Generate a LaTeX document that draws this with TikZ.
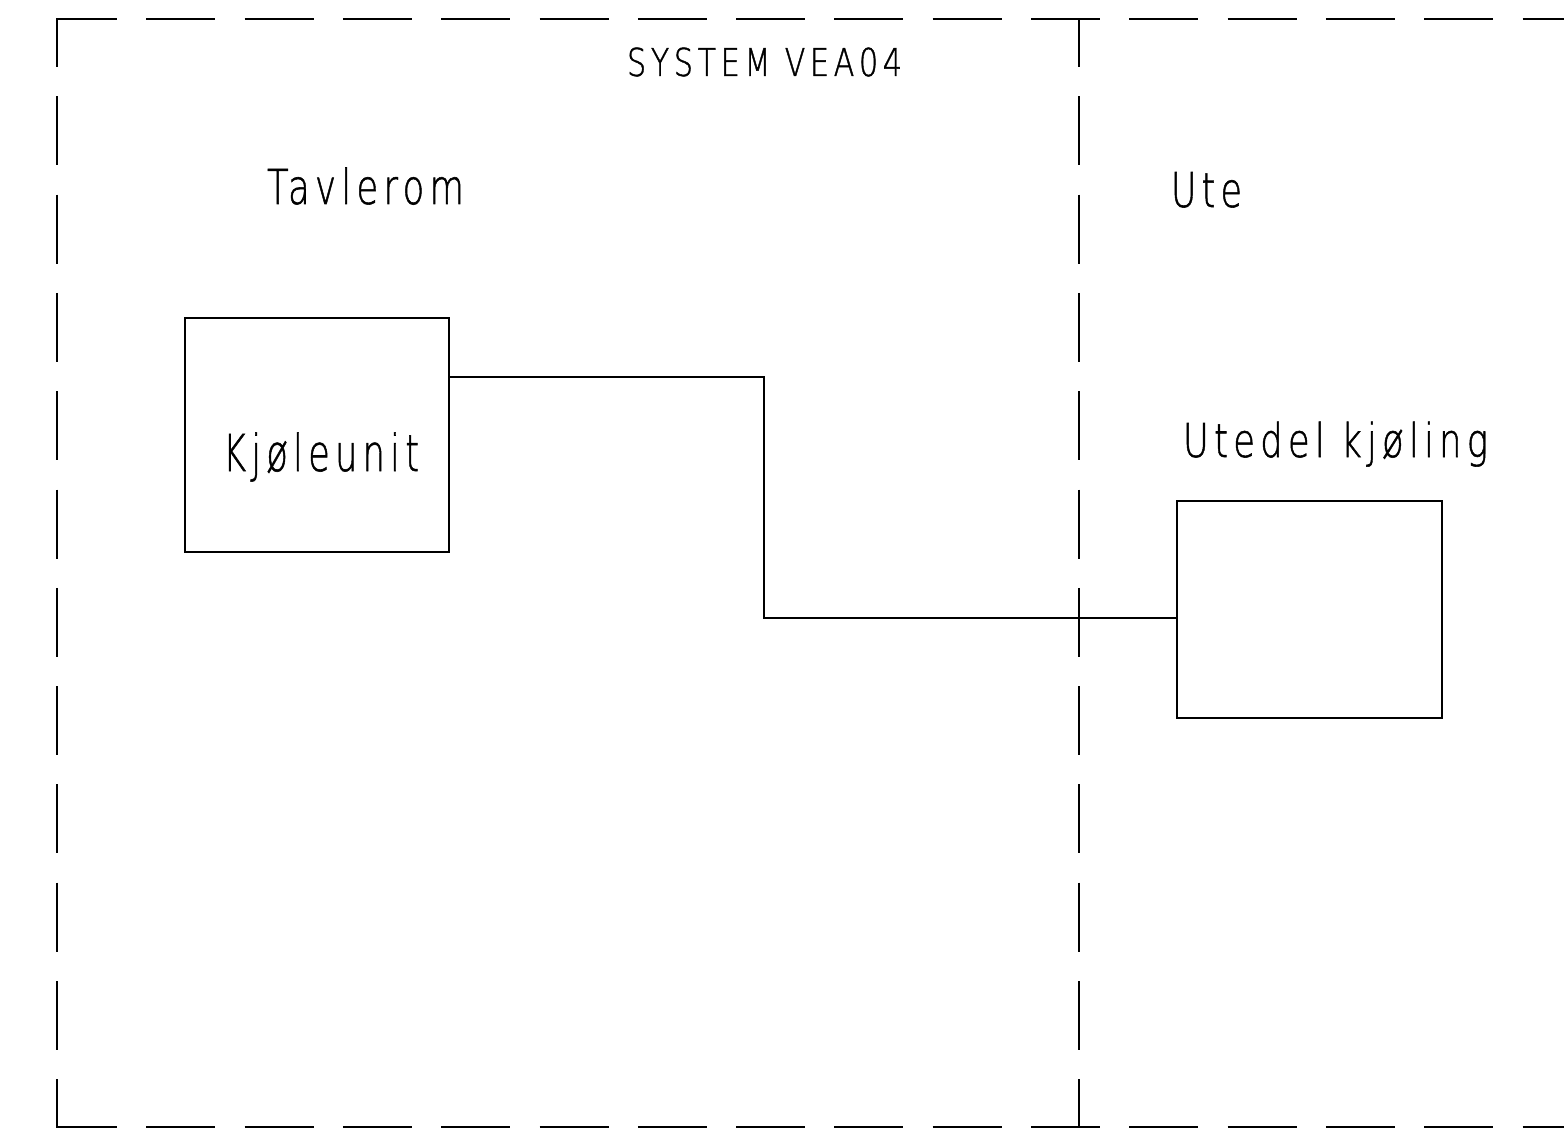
\documentclass[tikz,border=0pt]{standalone}
\usepackage{fontspec}
\usepackage{graphicx}
\newfontfamily\isofont[LetterSpace=15,FakeBold=1.2]{DejaVu Sans ExtraLight}
\newlength\upx
\setlength\upx{0.5pt}
\newcommand\isotext[3]{\resizebox{#1\upx}{\height}{\fontsize{#2}{#2}\selectfont\isofont #3}}
\tikzset{
  framehdash/.style={line width=1pt, dash pattern=on 34.5pt off 14.65pt, dash phase=4pt},
  framevdash/.style={line width=1pt, dash pattern=on 34.5pt off 14.65pt, dash phase=10.5pt},
  unitbox/.style={draw, line width=1pt, inner sep=0pt, outer sep=0pt, anchor=north west},
  conn/.style={line width=1.2pt},
  lbl/.style={inner sep=0pt, outer sep=0pt, anchor=base west}
}
\begin{document}
\begin{tikzpicture}[x=0.5pt, y=-0.5pt]
\useasboundingbox[fill=white] (0,0) rectangle (1564,1129);
% frame
\draw[framehdash] (56,19) -- (1564,19);
\draw[framehdash] (56,1127) -- (1564,1127);
\draw[framevdash] (57,19) -- (57,1127);
\draw[framevdash] (1079,19) -- (1079,1127);
% titles
\node[lbl] (sys) at (627,76) {\isotext{275}{19.2pt}{SYSTEM VEA04}};
\node[lbl] (tav) at (267,204) {\isotext{197}{24pt}{Tavlerom}};
\node[lbl] (ute) at (1171,207) {\isotext{71}{24pt}{Ute}};
% boxes
\node[unitbox, minimum width=132pt, minimum height=117pt] (kj) at (185,318) {};
\node[lbl] (kjl) at (223,471) {\isotext{196}{25.4pt}{Kjøleunit}};
\node[unitbox, minimum width=132.5pt, minimum height=108.5pt] (ut) at (1177,501) {};
\node[lbl] (utl) at (1183,457) {\isotext{305}{23.3pt}{Utedel kjøling}};
% connector
\coordinate (bend) at (764,377);
\draw[conn] (kj.north east |- bend) -- (bend) |- ([yshift=-58.5pt]ut.north west);
\end{tikzpicture}
\end{document}
